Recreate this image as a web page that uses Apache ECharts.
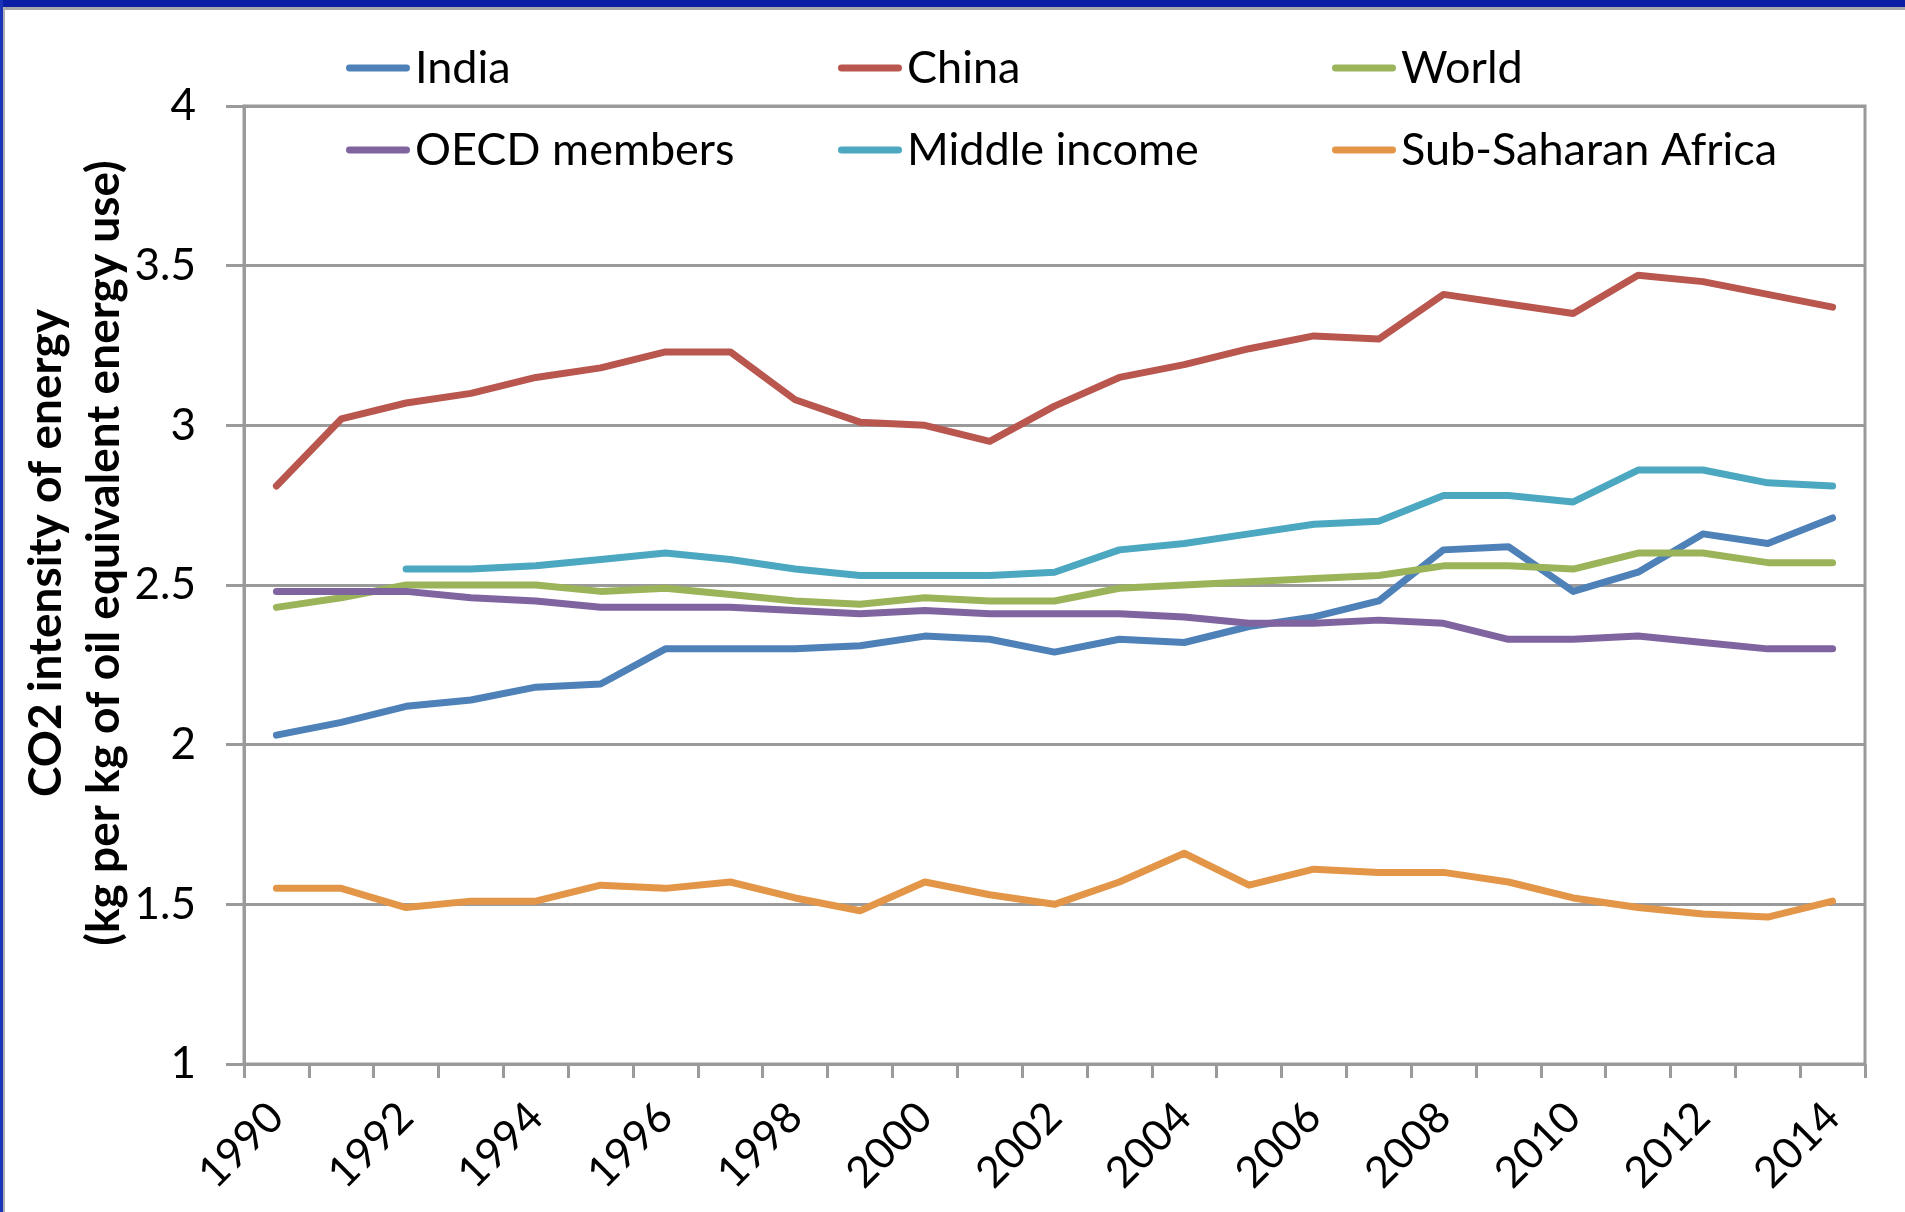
<!DOCTYPE html>
<html>
<head>
<meta charset="utf-8">
<title>CO2 intensity of energy</title>
<script src="https://cdn.jsdelivr.net/npm/echarts@6/dist/echarts.min.js"></script>
<style>
  html, body { margin: 0; padding: 0; background: #fff; }
  #chart { width: 1905px; height: 1212px; }
</style>
</head>
<body>
<div id="chart"></div>
<script>
// Years on the category axis
const years = ['1990','1991','1992','1993','1994','1995','1996','1997','1998','1999',
  '2000','2001','2002','2003','2004','2005','2006','2007','2008','2009',
  '2010','2011','2012','2013','2014'];

// CO2 intensity (kg per kg of oil equivalent energy use)
const india = [2.03, 2.07, 2.12, 2.14, 2.18, 2.19, 2.30, 2.30, 2.30, 2.31,
  2.34, 2.33, 2.29, 2.33, 2.32, 2.37, 2.40, 2.45, 2.61, 2.62,
  2.48, 2.54, 2.66, 2.63, 2.71];
const china = [2.81, 3.02, 3.07, 3.10, 3.15, 3.18, 3.23, 3.23, 3.08, 3.01,
  3.00, 2.95, 3.06, 3.15, 3.19, 3.24, 3.28, 3.27, 3.41, 3.38,
  3.35, 3.47, 3.45, 3.41, 3.37];
const world = [2.43, 2.46, 2.50, 2.50, 2.50, 2.48, 2.49, 2.47, 2.45, 2.44,
  2.46, 2.45, 2.45, 2.49, 2.50, 2.51, 2.52, 2.53, 2.56, 2.56,
  2.55, 2.60, 2.60, 2.57, 2.57];
const oecd = [2.48, 2.48, 2.48, 2.46, 2.45, 2.43, 2.43, 2.43, 2.42, 2.41,
  2.42, 2.41, 2.41, 2.41, 2.40, 2.38, 2.38, 2.39, 2.38, 2.33,
  2.33, 2.34, 2.32, 2.30, 2.30];
const middleIncome = [null, null, 2.55, 2.55, 2.56, 2.58, 2.60, 2.58, 2.55, 2.53,
  2.53, 2.53, 2.54, 2.61, 2.63, 2.66, 2.69, 2.70, 2.78, 2.78,
  2.76, 2.86, 2.86, 2.82, 2.81];
const subSaharan = [1.55, 1.55, 1.49, 1.51, 1.51, 1.56, 1.55, 1.57, 1.52, 1.48,
  1.57, 1.53, 1.50, 1.57, 1.66, 1.56, 1.61, 1.60, 1.60, 1.57,
  1.52, 1.49, 1.47, 1.46, 1.51];

const seriesNames = ['India', 'China', 'World', 'OECD members', 'Middle income', 'Sub-Saharan Africa'];
const seriesColors = ['#4f81b9', '#b9574f', '#9bb45a', '#8064a0', '#4ba8c0', '#e49648'];
const seriesValues = [india, china, world, oecd, middleIncome, subSaharan];

const FONT = 'Lato, "Open Sans", sans-serif';
const GRID_GRAY = '#9a9a9a';
const capsule = 'path://M3.5,0 H61.5 A3.5,3.5 0 0 1 61.5,7 H3.5 A3.5,3.5 0 0 1 3.5,0 Z';

function legendColumn(names, left) {
  return {
    orient: 'vertical',
    left: left,
    top: 43,
    padding: 0,
    data: names,
    icon: capsule,
    itemWidth: 64,
    itemHeight: 7,
    itemGap: 32,
    textStyle: { fontFamily: FONT, fontSize: 45, color: '#000', lineHeight: 50 }
  };
}

const chart = echarts.init(document.getElementById('chart'), null, { renderer: 'canvas' });

chart.setOption({
  animation: false,
  backgroundColor: '#ffffff',
  legend: [
    legendColumn(['India', 'OECD members'], 346),
    legendColumn(['China', 'Middle income'], 838),
    legendColumn(['World', 'Sub-Saharan Africa'], 1332)
  ],
  grid: {
    left: 244, right: 40, top: 106, bottom: 148,
    show: true, borderColor: GRID_GRAY, borderWidth: 3
  },
  xAxis: {
    type: 'category',
    data: years,
    boundaryGap: true,
    axisLine: { lineStyle: { color: GRID_GRAY, width: 3 } },
    axisTick: { show: true, interval: 0, length: 14, lineStyle: { color: GRID_GRAY, width: 3 } },
    axisLabel: {
      interval: 1, rotate: 45, margin: 46,
      fontFamily: FONT, fontSize: 43, color: '#000'
    },
    splitLine: { show: false }
  },
  yAxis: {
    type: 'value',
    min: 1, max: 4, interval: 0.5,
    axisLine: { show: true, lineStyle: { color: GRID_GRAY, width: 3 } },
    axisTick: { show: true, length: 18, lineStyle: { color: GRID_GRAY, width: 3 } },
    axisLabel: { margin: 48, fontFamily: FONT, fontSize: 44, color: '#000' },
    splitLine: { show: true, lineStyle: { color: GRID_GRAY, width: 3 } }
  },
  graphic: [
    // window frame
    { type: 'rect', shape: { x: 0, y: 0, width: 1905, height: 7 }, style: { fill: '#0a1fa6' }, z: 10 },
    { type: 'rect', shape: { x: 0, y: 7, width: 1905, height: 3 }, style: { fill: '#a8a8a8' }, z: 10 },
    { type: 'rect', shape: { x: 0, y: 0, width: 3, height: 1212 }, style: { fill: '#1a33b8' }, z: 10 },
    { type: 'rect', shape: { x: 3, y: 7, width: 2, height: 1205 }, style: { fill: '#b0b0b0' }, z: 10 },
    // y-axis title
    {
      type: 'text',
      x: 75, y: 553,
      rotation: Math.PI / 2,
      style: {
        text: 'CO2 intensity of energy\n(kg per kg of oil equivalent energy use)',
        fontFamily: FONT, fontWeight: 'bold', fontSize: 46, lineHeight: 58,
        fill: '#000', textAlign: 'center', textVerticalAlign: 'middle'
      }
    }
  ],
  series: seriesNames.map((name, i) => ({
    name: name,
    type: 'line',
    data: seriesValues[i],
    symbol: 'none',
    connectNulls: false,
    color: seriesColors[i],
    lineStyle: { width: 7, color: seriesColors[i], cap: 'round', join: 'round' }
  }))
});
</script>
</body>
</html>
